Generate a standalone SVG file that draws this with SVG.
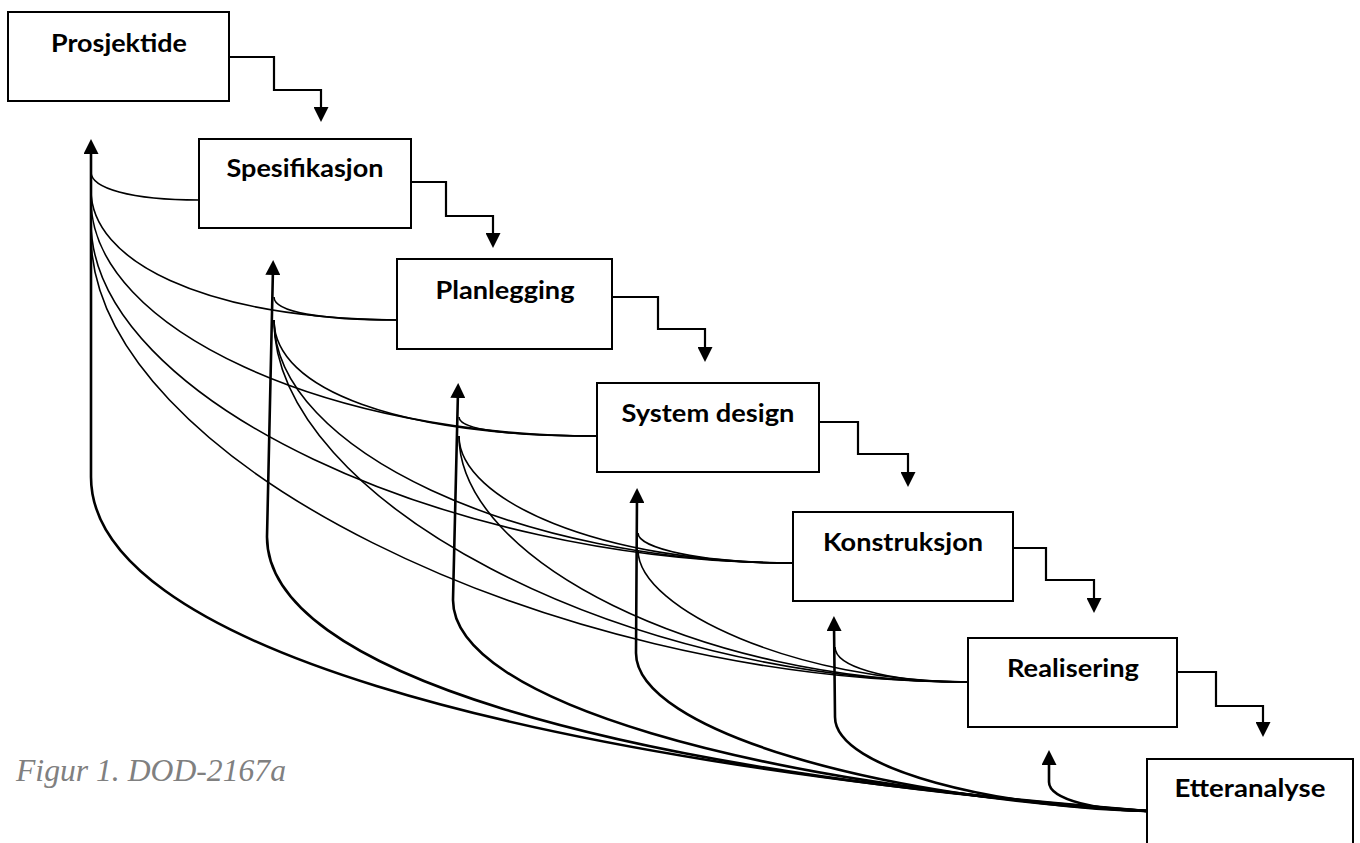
<svg xmlns="http://www.w3.org/2000/svg" width="1360" height="843" viewBox="0 0 1360 843">
<style>
.box{fill:#fff;stroke:#000;stroke-width:2}
.lbl{font-family:Lato,"Open Sans","Liberation Sans",sans-serif;font-weight:bold;font-size:25px;fill:#000;text-anchor:middle}
.step{fill:none;stroke:#000;stroke-width:2.2;marker-end:url(#ah)}
.thin{fill:none;stroke:#000;stroke-width:1.6}
.thick{fill:none;stroke:#000;stroke-width:2.6;marker-end:url(#ah)}
.cap{font-family:"Liberation Serif","Times New Roman",serif;font-style:italic;font-size:31px;fill:#808080}
</style>
<defs>
<marker id="ah" viewBox="0 0 10 10" refX="4.67" refY="5" markerWidth="15" markerHeight="15" markerUnits="userSpaceOnUse" orient="auto">
<path d="M0,0 L10,5 L0,10 z" fill="#000"/>
</marker>
</defs>
<rect width="1360" height="843" fill="#fff"/>
<g id="connectors">
<path class="step" d="M229,57 H274 V90 H321 V114"/>
<path class="step" d="M411,182 H446 V216 H493 V240"/>
<path class="step" d="M612,297 H658 V329 H705 V354"/>
<path class="step" d="M819,422 H858 V454 H908 V479"/>
<path class="step" d="M1013,548 H1046 V580 H1094 V605"/>
<path class="step" d="M1177,672 H1216 V706 H1263 V729"/>
<path class="thin" d="M91,172 C91,188 130,200 199,200"/>
<path class="thin" d="M91,190 C91,260 200,318 397,320"/>
<path class="thin" d="M91,200 C91,330 330,436 597,436"/>
<path class="thin" d="M91,222 C91,400 450,563 793,563"/>
<path class="thin" d="M91,235 C91,460 550,682 968,682"/>
<path class="thin" d="M274,297 C274,312 320,320 397,320"/>
<path class="thin" d="M274,320 C274,390 400,436 597,436"/>
<path class="thin" d="M274,320 C274,450 520,563 793,563"/>
<path class="thin" d="M274,320 C274,500 620,682 968,682"/>
<path class="thin" d="M459,417 C459,430 510,436 597,436"/>
<path class="thin" d="M459,436 C459,500 600,563 793,563"/>
<path class="thin" d="M459,436 C459,560 700,682 968,682"/>
<path class="thin" d="M638,533 C638,548 700,563 793,563"/>
<path class="thin" d="M638,550 C638,610 800,682 968,682"/>
<path class="thin" d="M835,647 C835,665 880,682 968,682"/>
<path class="thick" d="M1147,811 C500,760 91,640 91,477 L91,147"/>
<path class="thick" d="M1147,811 C600,770 267,670 267,537 L273,268"/>
<path class="thick" d="M1147,811 C750,785 453,700 453,600 L458,391"/>
<path class="thick" d="M1147,811 C880,800 636,730 636,653 L637,496"/>
<path class="thick" d="M1147,811 C1000,808 835,770 835,717 L834,624"/>
<path class="thick" d="M1147,811 C1100,811 1049,800 1049,782 L1049,758"/>
</g>
<g id="prosjektide">
<rect class="box" x="8" y="12" width="221" height="89"/>
<text class="lbl" x="119" y="52" textLength="136" lengthAdjust="spacingAndGlyphs">Prosjektide</text>
</g>
<g id="spesifikasjon">
<rect class="box" x="199" y="139" width="212" height="89"/>
<text class="lbl" x="305" y="177" textLength="157" lengthAdjust="spacingAndGlyphs">Spesifikasjon</text>
</g>
<g id="planlegging">
<rect class="box" x="397" y="259" width="215" height="90"/>
<text class="lbl" x="505" y="299" textLength="139" lengthAdjust="spacingAndGlyphs">Planlegging</text>
</g>
<g id="systemdesign">
<rect class="box" x="597" y="383" width="222" height="89"/>
<text class="lbl" x="708" y="422" textLength="173" lengthAdjust="spacingAndGlyphs">System design</text>
</g>
<g id="konstruksjon">
<rect class="box" x="793" y="512" width="220" height="89"/>
<text class="lbl" x="903" y="551" textLength="160" lengthAdjust="spacingAndGlyphs">Konstruksjon</text>
</g>
<g id="realisering">
<rect class="box" x="968" y="638" width="209" height="89"/>
<text class="lbl" x="1073" y="677" textLength="132" lengthAdjust="spacingAndGlyphs">Realisering</text>
</g>
<g id="etteranalyse">
<rect class="box" x="1147" y="759" width="206" height="100"/>
<text class="lbl" x="1250" y="797" textLength="151" lengthAdjust="spacingAndGlyphs">Etteranalyse</text>
</g>
<g id="caption">
<text class="cap" x="16" y="781" textLength="270" lengthAdjust="spacingAndGlyphs">Figur 1. DOD-2167a</text>
</g>
</svg>
